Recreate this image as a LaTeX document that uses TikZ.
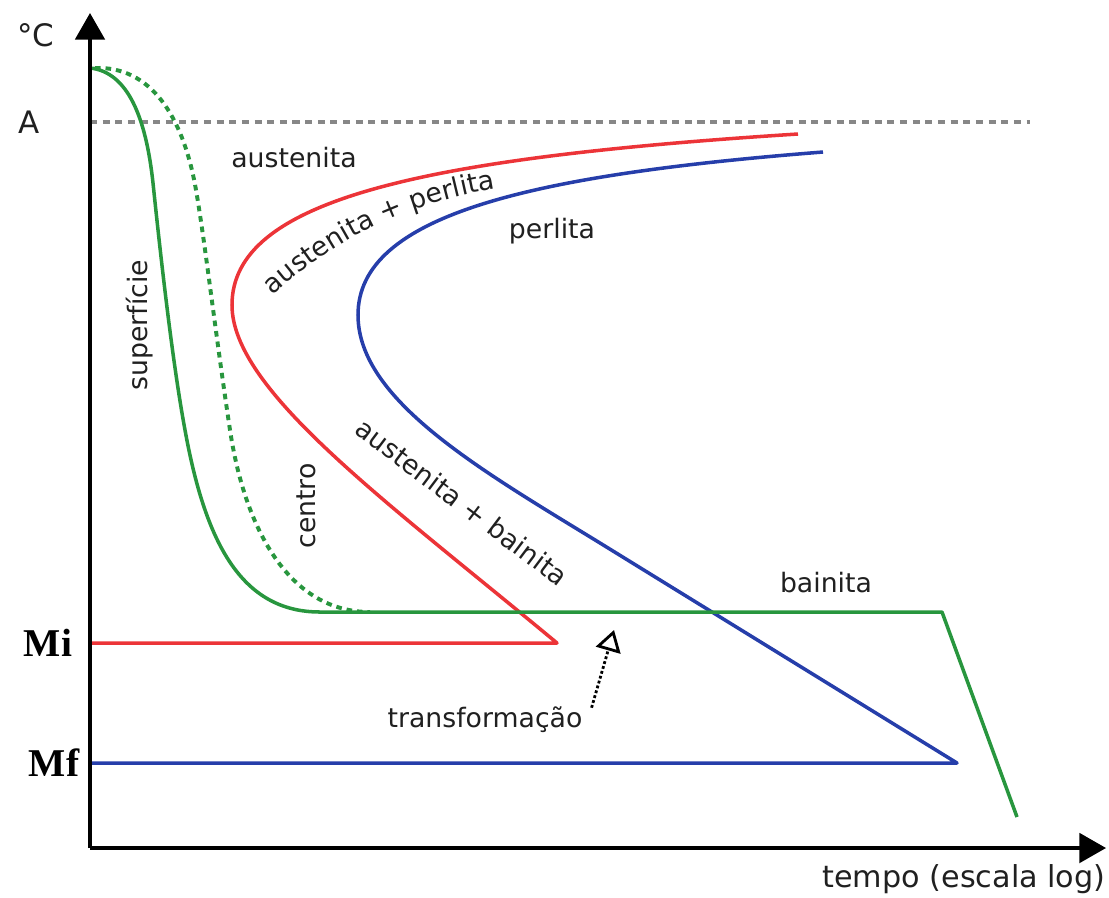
\documentclass[tikz,border=0pt]{standalone}
\usepackage{fontspec}
\setmainfont{DejaVu Sans}
\newfontfamily\timesfont{Liberation Serif}
\usetikzlibrary{arrows.meta,decorations.text}
\definecolor{tred}{RGB}{236,52,56}
\definecolor{tblue}{RGB}{38,62,170}
\definecolor{tgreen}{RGB}{40,150,62}
\definecolor{tgray}{RGB}{135,135,135}
\definecolor{ttext}{RGB}{32,32,32}
\tikzset{
  axis/.style={line width=2.6pt, -{Triangle[length=19pt,width=21pt]}},
  curve/.style={line width=2.5pt, line join=round},
  lbl/.style={text=ttext, font=\fontsize{19}{23}\selectfont},
  mlbl/.style={text=black, font=\timesfont\bfseries\fontsize{28}{32}\selectfont},
}
\def\lblfont{\fontsize{19}{23}\selectfont}

\begin{document}
\begin{tikzpicture}[x=0.025cm, y=-0.025cm]
  \useasboundingbox (0,0) rectangle (1109,897);

  % axes
  \coordinate (O) at (90,848);
  \coordinate (ytop) at (90,13);
  \coordinate (xend) at (1106,848);
  \coordinate (mi) at (90,643);
  \coordinate (mf) at (90,763);

  \draw[tgray, line width=2.2pt, dash pattern=on 5pt off 4pt] (90,122) -- (1030,122);

  %%% curves %%%

  \draw[curve, tred] (798,134) .. controls (420,158) and (232,200) .. (232,305)
    .. controls (232,390) and (385,500) .. (557,643) -- (mi);

  \draw[curve, tblue] (823,152) .. controls (530,175) and (358,215) .. (358,315)
    .. controls (358,400) and (481,470) .. (600,543) -- (957,763) -- (mf);

  \draw[curve, tgreen] (90,68) .. controls (128,72) and (146,118) .. (153,183)
    .. controls (160,250) and (172,360) .. (185,430)
    .. controls (205,540) and (240,612) .. (320,612) -- (942,612) -- (1017,817);

  \draw[curve, tgreen, line width=2.8pt, dash pattern=on 4pt off 3.5pt]
    (95,68) .. controls (150,66) and (183,115) .. (196,190)
    .. controls (205,242) and (215,330) .. (230,430)
    .. controls (245,530) and (290,612) .. (370,612);

  \draw[axis] (O) -- (ytop);
  \draw[axis] (O) -- (xend);

  %%% labels %%%

  \node[lbl, font=\fontsize{22}{26}\selectfont] (degc) at (36,35) {°C};
  \node[lbl, font=\fontsize{22}{26}\selectfont] (alevel) at (29,122) {A};
  \node[mlbl] (milbl) at (48,643) {Mi};
  \node[mlbl] (mflbl) at (54,763) {Mf};

  \node[lbl] (aust) at (294,158) {austenita};
  \node[lbl] (perl) at (552,231) {perlita};
  \node[lbl] (bain) at (826,583) {bainita};
  \node[lbl, rotate=90] (sup) at (140,325) {superfície};
  \node[lbl, rotate=90] (cent) at (306,506) {centro};
  \node[lbl, rotate=-37] (austbain) at (462,502) {austenita + bainita};
  \path[decorate, decoration={text along path, text color=ttext, text align=center,
      text={|\lblfont|austenita + perlita}}]
    (262,305) .. controls (330,240) and (410,200) .. (510,187);

  \node[lbl] (trans) at (485,720) {transformação};
  \node[lbl, font=\fontsize{21.5}{25}\selectfont] (tempo) at (964,879) {tempo (escala log)};

  \coordinate (ttip) at (614,630);
  \draw[line width=2pt, dash pattern=on 2pt off 1.6pt,
    -{Triangle[open, length=15pt, width=18pt, line width=2pt]}] ([xshift=3pt,yshift=-4pt]trans.north east) -- (ttip);
\end{tikzpicture}
\end{document}
